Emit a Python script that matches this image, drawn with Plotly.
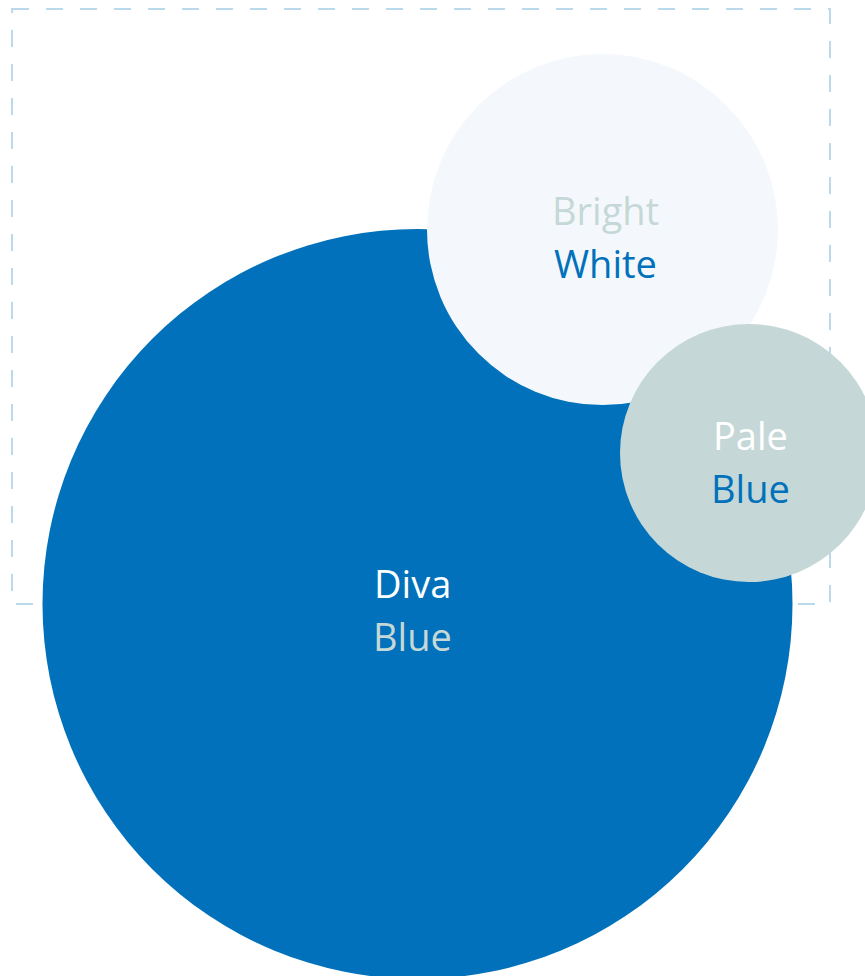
import plotly.graph_objects as go

# Bubble data (pixel-space coordinates, y downward)
names_top = ["Diva", "Bright", "Pale"]
names_bottom = ["Blue", "White", "Blue"]
center_x = [417.5, 602.5, 749]
center_y = [604, 229.5, 453]
radius = [375, 175.5, 129]
fill_colors = ["#0071BA", "#F4F8FC", "#C5D8D7"]
top_text_colors = ["#FFFFFF", "#C5D8D7", "#FFFFFF"]
bottom_text_colors = ["#C5D8D7", "#0071BA", "#0071BA"]

# Dashed frame
frame_x = [12, 830]
frame_y = [9, 604]

W, H = 865, 976

fig = go.Figure()
fig.add_trace(go.Scatter(x=[0, W], y=[0, H], mode="markers",
                         marker=dict(opacity=0), hoverinfo="skip", showlegend=False))

shapes = [dict(type="rect", xref="x", yref="y",
               x0=frame_x[0], x1=frame_x[1], y0=frame_y[0], y1=frame_y[1],
               line=dict(color="#BAD9EB", width=2, dash="17px,17px"),
               fillcolor="rgba(0,0,0,0)", layer="below")]
for cx, cy, r, c in zip(center_x, center_y, radius, fill_colors):
    shapes.append(dict(type="circle", xref="x", yref="y",
                       x0=cx - r, x1=cx + r, y0=cy - r, y1=cy + r,
                       fillcolor=c, line=dict(width=0), layer="above"))

annotations = []
FONT = "Open Sans, Lato, sans-serif"
label_dx = [-5, 3, 1]
label_dy = [(-21, 32), (-20, 33), (-18, 35)]
for t, b, cx, cy, tc, bc, dx, (d1, d2) in zip(names_top, names_bottom, center_x, center_y,
                                               top_text_colors, bottom_text_colors,
                                               label_dx, label_dy):
    annotations.append(dict(x=cx + dx, y=cy + d1, xref="x", yref="y", text=t,
                            showarrow=False, xanchor="center", yanchor="middle",
                            font=dict(family=FONT, size=38, color=tc)))
    annotations.append(dict(x=cx + dx, y=cy + d2, xref="x", yref="y", text=b,
                            showarrow=False, xanchor="center", yanchor="middle",
                            font=dict(family=FONT, size=38, color=bc)))

fig.update_layout(
    width=W, height=H,
    margin=dict(l=0, r=0, t=0, b=0),
    paper_bgcolor="white", plot_bgcolor="white",
    xaxis=dict(range=[0, W], visible=False, fixedrange=True),
    yaxis=dict(range=[H, 0], visible=False, fixedrange=True),
    shapes=shapes, annotations=annotations,
    showlegend=False,
)
fig.write_html("out.html",
               config={"displayModeBar": False, "staticPlot": True},
               post_script="document.body.style.margin='0';document.body.style.overflow='hidden';")
